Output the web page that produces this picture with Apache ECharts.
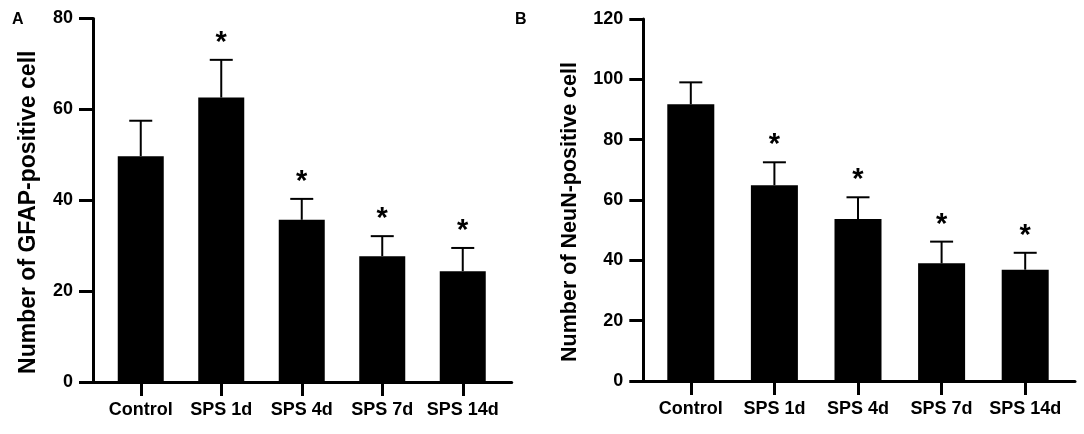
<!DOCTYPE html>
<html>
<head>
<meta charset="utf-8">
<script src="https://cdn.jsdelivr.net/npm/echarts@6/dist/echarts.min.js"></script>
<style>
	html, body { margin: 0; padding: 0; background: #fff; }
	#chart { width: 1084px; height: 434px; }
</style>
</head>
<body>
<div id="chart"></div>
<script>
var categories = ['Control', 'SPS 1d', 'SPS 4d', 'SPS 7d', 'SPS 14d'];
// panel A: GFAP-positive cells
var gfapMean = [49.7, 62.6, 35.7, 27.7, 24.4];
var gfapSd = [7.8, 8.3, 4.6, 4.4, 5.1];
var gfapSig = [0, 1, 1, 1, 1];
var gfapTicks = [0, 20, 40, 60, 80];
// panel B: NeuN-positive cells
var neunMean = [91.7, 64.9, 53.7, 39.0, 36.9];
var neunSd = [7.3, 7.6, 7.2, 7.2, 5.6];
var neunSig = [0, 1, 1, 1, 1];
var neunTicks = [0, 20, 40, 60, 80, 100, 120];

var FONT = '"Liberation Sans", Arial, sans-serif';

function errData(mean, sd, sig) {
	var out = [];
	for (var i = 0; i < mean.length; i++) {
		out.push([i, mean[i], mean[i] + sd[i], sig[i]]);
	}
	return out;
}

function renderErr(params, api) {
	var i = api.value(0);
	var base = api.coord([i, api.value(1)]);
	var top = api.coord([i, api.value(2)]);
	var half = 11.5;
	var line = { stroke: '#000', lineWidth: 2 };
	var children = [
		{ type: 'line', shape: { x1: base[0], y1: base[1], x2: top[0], y2: top[1] }, style: line },
		{ type: 'line', shape: { x1: top[0] - half, y1: top[1], x2: top[0] + half, y2: top[1] }, style: line }
	];
	if (api.value(3)) {
		children.push({
			type: 'text', x: top[0], y: top[1] - 17,
			style: { text: '*', fontSize: 29, fontWeight: 'bold', fontFamily: FONT, fill: '#000', align: 'center', verticalAlign: 'middle' }
		});
	}
	return { type: 'group', children: children };
}

function valueAxis(grid, ticks, name, nameGap, nameSize, show) {
	if (!show) {
		return { type: 'value', gridIndex: grid, min: ticks[0], max: ticks[ticks.length - 1], show: false };
	}
	return {
		type: 'value', gridIndex: grid,
		min: ticks[0], max: ticks[ticks.length - 1], interval: ticks[1] - ticks[0],
		name: name, nameLocation: 'middle', nameGap: nameGap,
		nameTextStyle: { fontSize: nameSize, fontWeight: 'bold', color: '#000', fontFamily: FONT, padding: [0, 24, 0, 0] },
		axisLine: { show: true, lineStyle: { color: '#000', width: 3 } },
		axisTick: { show: true, length: 14, lineStyle: { color: '#000', width: 3 } },
		axisLabel: { fontSize: 18, fontWeight: 'bold', color: '#000', fontFamily: FONT, margin: 20 },
		splitLine: { show: false }
	};
}

function lineAxis(grid) {
	return {
		type: 'value', gridIndex: grid, min: 0, max: 1,
		axisLine: { show: true, onZero: false, lineStyle: { color: '#000', width: 3 } },
		axisTick: { show: false }, axisLabel: { show: false }, splitLine: { show: false }
	};
}

function catAxis(grid) {
	return {
		type: 'category', gridIndex: grid, data: categories,
		axisLine: { show: false },
		axisTick: { show: true, alignWithLabel: true, length: 14, lineStyle: { color: '#000', width: 3 } },
		axisLabel: { fontSize: 18, fontWeight: 'bold', color: '#000', fontFamily: FONT, margin: 19, interval: 0 }
	};
}

var chart = echarts.init(document.getElementById('chart'));
var option = {
	backgroundColor: '#fff',
	animation: false,
	title: [
		{ text: 'A', left: 12, top: 12, padding: 0, textStyle: { fontSize: 16, fontWeight: 'bold', color: '#000', fontFamily: FONT } },
		{ text: 'B', left: 515, top: 12, padding: 0, textStyle: { fontSize: 16, fontWeight: 'bold', color: '#000', fontFamily: FONT } }
	],
	grid: [
		{ left: 93, top: 18.5, width: 418.7, height: 363.5 },
		{ left: 100.5, top: 18.5, width: 402.5, height: 363.5 },
		{ left: 643.3, top: 19, width: 431.7, height: 362 },
		{ left: 649, top: 19, width: 418, height: 362 }
	],
	xAxis: [lineAxis(0), catAxis(1), lineAxis(2), catAxis(3)],
	yAxis: [
		valueAxis(0, gfapTicks, 'Number of GFAP-positive cell', 53, 23, true),
		valueAxis(1, gfapTicks, '', 0, 0, false),
		valueAxis(2, neunTicks, 'Number of NeuN-positive cell', 62, 21.5, true),
		valueAxis(3, neunTicks, '', 0, 0, false)
	],
	series: [
		{ type: 'bar', xAxisIndex: 1, yAxisIndex: 1, data: gfapMean, barWidth: 46, itemStyle: { color: '#000' } },
		{ type: 'custom', xAxisIndex: 1, yAxisIndex: 1, data: errData(gfapMean, gfapSd, gfapSig), renderItem: renderErr, z: 3 },
		{ type: 'bar', xAxisIndex: 3, yAxisIndex: 3, data: neunMean, barWidth: 47, itemStyle: { color: '#000' } },
		{ type: 'custom', xAxisIndex: 3, yAxisIndex: 3, data: errData(neunMean, neunSd, neunSig), renderItem: renderErr, z: 3 }
	]
};
chart.setOption(option);
</script>
</body>
</html>
